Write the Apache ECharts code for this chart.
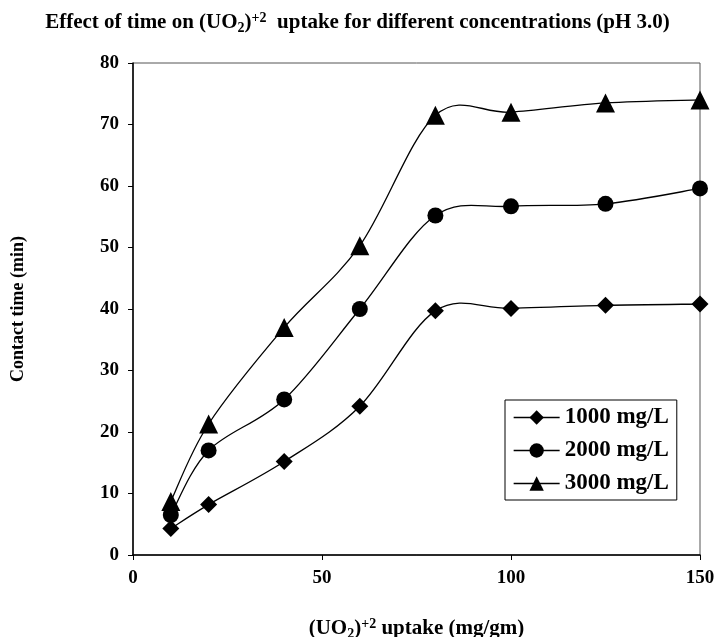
<!DOCTYPE html>
<html><head><meta charset="utf-8">
<script src="https://cdn.jsdelivr.net/npm/echarts@6/dist/echarts.min.js"></script>
<style>html,body{margin:0;padding:0;background:#fff}#c{width:715px;height:637px}</style>
</head><body><div id="c"></div>
<script>
const xValues = [10, 20, 40, 60, 80, 100, 125, 150];
const series1000 = [4.3, 8.2, 15.2, 24.2, 39.7, 40.1, 40.6, 40.8];
const series2000 = [6.5, 17.0, 25.3, 40.0, 55.2, 56.7, 57.1, 59.6];
const series3000 = [8.7, 21.3, 37.0, 50.3, 71.5, 72.0, 73.5, 74.0];
const seriesNames = ['1000 mg/L', '2000 mg/L', '3000 mg/L'];
const xTicks = [0, 50, 100, 150];
const yTicks = [0, 10, 20, 30, 40, 50, 60, 70, 80];

const F = 'Liberation Serif';
const chart = echarts.init(document.getElementById('c'));
const pair = arr => xValues.map((x, i) => [x, arr[i]]);

// Excel-like smoothed curve through the points, positioned via the chart's own axes (api.coord)
const smoothCurve = (arr) => ({
  type: 'custom',
  silent: true,
  z: 1,
  data: [[xValues[0], arr[0]]],
  renderItem: (params, api) => {
    const p = xValues.map((x, i) => api.coord([x, arr[i]]));
    const n = p.length;
    const t = 1 / 6;
    const path = [];
    for (let i = 0; i < n - 1; i++) {
      const p0 = p[Math.max(0, i - 1)], p1 = p[i], p2 = p[i + 1], p3 = p[Math.min(n - 1, i + 2)];
      const c1 = [p1[0] + (p2[0] - p0[0]) * t, p1[1] + (p2[1] - p0[1]) * t];
      const c2 = [p2[0] - (p3[0] - p1[0]) * t, p2[1] - (p3[1] - p1[1]) * t];
      path.push({ type: 'bezierCurve', shape: { x1: p1[0], y1: p1[1], cpx1: c1[0], cpy1: c1[1], cpx2: c2[0], cpy2: c2[1], x2: p2[0], y2: p2[1] },
        style: { stroke: '#000', lineWidth: 1.3, fill: null } });
    }
    return { type: 'group', children: path };
  }
});
const marks = (name, data, symbol, size) => ({
  name, type: 'line', data: pair(data), z: 3,
  symbol, symbolSize: size,
  lineStyle: { color: '#000', width: 1.3, opacity: 0 },
  itemStyle: { color: '#000' }
});
const richText = (main, small, subPad, supPad) => ({
  n: { fontFamily: F, fontWeight: 'bold', fontSize: main, color: '#000' },
  sub: { fontFamily: F, fontWeight: 'bold', fontSize: small, color: '#000', verticalAlign: 'bottom', padding: [subPad, 0, 0, 0] },
  sup: { fontFamily: F, fontWeight: 'bold', fontSize: small, color: '#000', verticalAlign: 'top', padding: [0, 0, supPad, 0] }
});
chart.setOption({
  animation: false,
  title: {
    text: '{n|Effect of time on (UO}{sub|2}{n|)}{sup|+2}{n|  uptake for different concentrations (pH 3.0)}',
    left: 'center', top: 6,
    textStyle: { rich: richText(21, 14, 4, 10) }
  },
  grid: { left: 133, right: 15, top: 63, bottom: 82, show: true, borderColor: '#555', borderWidth: 1, outerBoundsMode: 'none', containLabel: false },
  legend: {
    orient: 'vertical', left: 505, top: 400,
    data: seriesNames,
    borderColor: '#000', borderWidth: 1, padding: [6, 8, 5, 8],
    itemWidth: 46, itemHeight: 18, itemGap: 10,
    lineStyle: { color: '#000', width: 1.3, opacity: 1 },
    textStyle: { fontFamily: F, fontWeight: 'bold', fontSize: 23, color: '#000' }
  },
  xAxis: {
    type: 'value', min: 0, max: 150, interval: 50,
    name: '{n|(UO}{sub|2}{n|)}{sup|+2}{n| uptake (mg/gm)}',
    nameLocation: 'middle', nameGap: 62,
    nameTextStyle: { rich: richText(21, 14, 6, 10) },
    axisLine: { lineStyle: { color: '#000', width: 1.5 } },
    axisTick: { show: true, length: 5, lineStyle: { color: '#000' } },
    axisLabel: { fontFamily: F, fontWeight: 'bold', fontSize: 19, color: '#000', margin: 14 },
    splitLine: { show: false }
  },
  yAxis: {
    type: 'value', min: 0, max: 80, interval: 10,
    name: 'Contact time (min)', nameLocation: 'middle', nameGap: 106, nameRotate: 90,
    nameTextStyle: { fontFamily: F, fontWeight: 'bold', fontSize: 18, color: '#000' },
    axisLine: { show: true, lineStyle: { color: '#000', width: 1.5 } },
    axisTick: { show: true, length: 5, lineStyle: { color: '#000' } },
    axisLabel: { fontFamily: F, fontWeight: 'bold', fontSize: 19, color: '#000', margin: 14 },
    splitLine: { show: false }
  },
  series: [
    smoothCurve(series1000),
    smoothCurve(series2000),
    smoothCurve(series3000),
    marks(seriesNames[0], series1000, 'diamond', 17),
    marks(seriesNames[1], series2000, 'circle', 16),
    marks(seriesNames[2], series3000, 'triangle', 19)
  ]
});
</script></body></html>
